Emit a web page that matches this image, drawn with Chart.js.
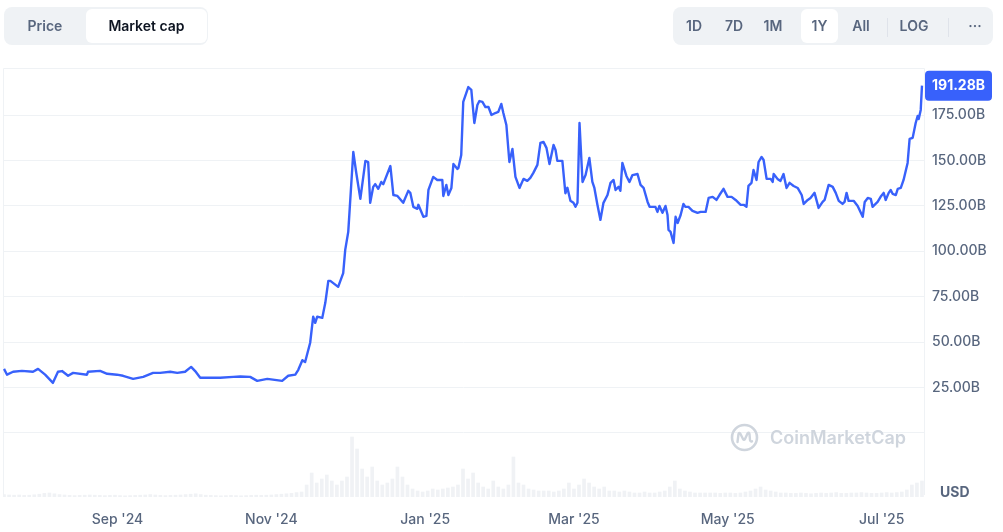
<!DOCTYPE html>
<html>
<head>
<meta charset="utf-8">
<script src="https://cdn.jsdelivr.net/npm/chart.js@4.4.1/dist/chart.umd.min.js"></script>
<style>
html,body{margin:0;padding:0;background:#fff;}
body{width:1003px;height:532px;position:relative;overflow:hidden;font-family:Inter,"Noto Sans",sans-serif;}
#wrap{position:absolute;left:0;top:0;width:1003px;height:532px;}
.seg{position:absolute;top:7px;height:38px;background:#eff2f5;border-radius:8px;}
.btn{position:absolute;top:2px;height:34px;line-height:34px;font-size:14px;font-weight:600;color:#58667e;text-align:center;white-space:nowrap;}
.btn.on{background:#fff;border-radius:6px;color:#0d1421;}
.div{position:absolute;top:11px;width:1px;height:19px;background:#dfe3ea;}
#usd{position:absolute;left:940px;top:482px;font-size:14px;font-weight:700;color:#58667e;line-height:20px;}
#wm{position:absolute;left:730px;top:422px;height:30px;display:flex;align-items:center;pointer-events:none;}
#wm span{font-size:18px;font-weight:600;color:#cfd5dd;margin-left:11px;}
</style>
</head>
<body>
<div id="wrap"><canvas id="c"></canvas></div>

<div class="seg" style="left:4px;width:204px;">
  <div class="btn" style="left:6px;width:70px;">Price</div>
  <div class="btn on" style="left:82px;width:121px;">Market cap</div>
</div>

<div class="seg" style="left:673px;width:320px;">
  <div class="btn" style="left:1px;width:40px;">1D</div>
  <div class="btn" style="left:41px;width:40px;">7D</div>
  <div class="btn" style="left:80px;width:40px;">1M</div>
  <div class="btn on" style="left:128px;width:37px;color:#58667e;">1Y</div>
  <div class="btn" style="left:168px;width:40px;">All</div>
  <div class="div" style="left:214px;"></div>
  <div class="btn" style="left:220px;width:42px;">LOG</div>
  <div class="div" style="left:275px;"></div>
  <div class="btn" style="left:282px;width:40px;">···</div>
</div>

<div id="wm">
  <svg width="29" height="29" viewBox="0 0 29 29">
    <circle cx="14.5" cy="14.5" r="12.5" fill="none" stroke="#cfd5dd" stroke-width="2.6"/>
    <path d="M7.5 19 L8.5 11 Q9 9 10.5 11 L13 16 Q14 17.5 15 16 L17.5 10.5 Q19 8.5 19.5 11 L20 17 Q20.5 19 22 18.3" fill="none" stroke="#cfd5dd" stroke-width="2.4" stroke-linecap="round" stroke-linejoin="round"/>
  </svg>
  <span>CoinMarketCap</span>
</div>

<div id="usd">USD</div>

<script>
// ---- data (days since 2024-07-18, market cap in billions USD) ----
const startDate = '2024-07-18';

const lineDays = [
  0,1.2,3.6,7.1,11.5,13.5,16.3,19.4,21.4,23.0,
  25.4,27.4,32.9,33.3,38.1,40.9,44.8,47.2,51.2,55.2,
  59.1,61.9,65.9,68.7,71.8,74.2,75.8,77.8,81.7,85.7,
  90.9,93.7,97.6,100.4,104.4,110.3,112.7,115.5,116.7,118.3,119.4,
  121.4,122.6,123.4,124.2,126.2,127.4,128.6,129.4,132.5,134.5,
  135.3,136.5,138.5,139.7,141.3,143.3,144.4,145.2,146.4,147.2,
  148.4,149.6,150.4,153.2,154.4,156.0,158.3,160.3,161.1,162.3,
  163.9,164.3,166.3,167.5,168.3,170.2,171.8,173.8,174.2,175.4,
  176.2,177.4,178.2,179.8,180.2,181.3,182.1,184.1,185.3,186.5,
  187.7,188.5,189.7,190.9,192.1,193.3,194.8,196.0,197.2,198.0,
  199.2,200.4,201.6,202.8,204.4,206.0,207.5,208.7,209.9,211.5,
  212.7,213.9,215.1,216.3,217.9,218.7,219.4,
  221.4,222.6,223.4,224.6,225.8,226.6,227.4,228.2,229.4,230.6,
  232.1,233.3,234.1,235.3,236.5,237.7,239.3,240.5,241.7,242.5,
  243.7,244.4,245.2,246.8,248.0,249.2,251.2,252.4,253.6,255.2,
  256.0,257.5,258.3,259.1,259.9,261.1,262.3,263.1,263.5,264.3,
  265.5,266.3,267.1,268.3,269.4,270.2,271.4,273.0,275.0,276.2,
  278.2,279.4,281.0,282.5,283.7,285.3,286.9,288.5,290.1,292.1,
  293.3,294.4,295.2,296.4,297.2,298.4,299.2,300.4,301.2,302.4,
  304.0,304.8,305.2,306.7,307.9,309.1,310.3,311.5,313.1,314.7,
  316.3,317.1,318.7,319.8,321.4,323.0,324.6,325.4,327.0,328.6,
  329.8,331.0,332.5,333.3,334.1,334.9,336.9,338.5,340.5,341.3,
  342.5,343.7,344.4,346.4,347.6,348.8,349.6,350.8,351.6,352.4,
  353.6,354.4,355.6,356.7,358.3,359.1,360.3,361.5,362.3,362.7,
  363.5,364
];

const marketCapB = [
  35.2,32,33.6,34.1,33.6,35.2,32,27.5,33.6,34,
  31.4,33,32,33.6,34.1,32.5,32,31.4,29.7,30.8,
  33,33,33.6,33,33.6,36.3,34,30.3,30.3,30.3,
  30.8,31,30.8,28.6,29.7,28.6,31.4,32,34.7,40,39,
  49.6,64,60.6,64,63.3,71.6,83.7,83.7,80.4,88,
  100.8,110.7,154.7,143,128.9,149.8,149.2,126.7,135.5,137,
  134.4,138.2,137,147,131,130.5,126.7,133.3,132.2,124.5,
  123.4,125.6,119,119.5,133.8,141,139.3,139.3,130.5,136.6,
  131,134.9,148.1,145.4,146,153,182.3,190.5,189,170.7,
  180.6,182.8,182.3,179.5,179.5,175.1,176.2,176.8,181.2,176.2,
  169.6,149.2,156.4,141,134.9,139.9,138.8,140.4,143.2,147.6,
  159.7,160.3,157,148.1,158.6,155.8,149.8,
  149.8,132,135,127.8,126.7,124.5,126.7,170.7,138.2,142,
  151.4,138.2,134.9,125.6,117.3,126.7,131,137.7,139.3,133.8,
  135.5,133.3,148.7,141.5,138.2,142,142.6,136.6,135,127.2,
  124.5,124.5,124.5,121.7,125,121.2,125,120,111.8,110.7,
  104.6,119,115.6,120,126.1,124.5,124.5,122.3,121.2,121.7,
  121.7,129.4,130,128.3,131,134.4,130,130,128.3,125.6,
  125.6,124.5,136,137.7,144.8,139.3,149.2,152,150.3,139.9,
  139.9,138.2,142.6,139.9,138.8,142.6,134.9,137.7,136,134.9,
  131,126.1,128.3,129.4,132.2,123.9,127.2,128.3,136.6,135.5,
  132.2,127.8,126.1,127.2,132.2,127.8,127.8,125,119,127.2,
  129.4,128.9,124.5,127.2,130,132.2,128.3,132.2,133.8,131.6,
  131,134.4,134.9,139.3,148.7,161.9,162.5,170.7,174.6,172.9,
  177.9,191.28
];

// volume (billions USD), one value every 2 days from startDate
const volumeB = [
  1.2,1.0,0.9,1.0,0.8,0.9,1.1,1.4,1.8,2.0,
  1.6,1.2,1.0,0.8,0.7,0.8,0.9,1.0,0.9,0.8,
  0.7,0.8,0.9,0.7,0.6,0.7,0.8,0.9,1.0,1.2,
  1.0,0.8,0.7,0.8,0.9,1.0,1.2,1.4,1.6,1.2,
  0.9,0.8,0.7,0.6,0.7,0.8,0.7,0.6,0.7,0.8,
  0.9,0.8,0.9,1.0,1.2,1.4,1.6,1.8,2.2,2.5,
  6,12,7,9,11,8,6,8,10,30,
  24,14,10,15,8,6,7,9,15,10,
  6,4,3,2.5,3,4,3.5,4,4.5,5,
  6,14,9,12,7,5,4,8,5,4,
  6,20,7,6,4,3.5,3,3,3,2.5,
  3,4,7,4,6,9,7,5,4,5,
  3,3,2.5,3,2.5,2,2,2.5,2,2,
  2.5,3,5,8,4,3,2.5,2,2,2,
  2,2,1.8,2,2,1.8,2,2.5,3,4,
  5,3.5,3,2.5,2,2,1.8,1.8,2,1.8,
  1.6,1.8,2,1.8,2,2.2,1.8,1.8,2,2,
  2.2,2,1.8,1.8,2,2.2,2,2.2,2.5,3.5,
  6,7,8
];
const volumeStepDays = 2;

const tickDates = ['2024-09-01','2024-11-01','2025-01-01','2025-03-01','2025-05-01','2025-07-01'];
const tickLabels = ["Sep '24","Nov '24","Jan '25","Mar '25","May '25","Jul '25"];
const yTickValues = [0,25,50,75,100,125,150,175];

// ---- build ----
const dayOf = d => (Date.parse(d + 'T00:00:00Z') - Date.parse(startDate + 'T00:00:00Z')) / 86400000;
const n = Math.min(lineDays.length, marketCapB.length);
const linePts = [];
for (let i = 0; i < n; i++) linePts.push({x: lineDays[i], y: marketCapB[i]});
const volPts = volumeB.map((v, i) => ({x: i * volumeStepDays, y: v}));
const tickDays = tickDates.map(dayOf);
const lastVal = marketCapB[n - 1];

const GRID = '#eff2f5';
const LABEL = '#58667e';
const FONT = 'Inter, "Noto Sans", sans-serif';

const framePlugin = {
  id: 'frame',
  beforeDatasetsDraw(chart) {
    const {ctx, chartArea: a} = chart;
    ctx.save();
    ctx.strokeStyle = GRID;
    ctx.lineWidth = 1;
    ctx.beginPath();
    ctx.moveTo(a.left + 0.5, a.bottom);
    ctx.lineTo(a.left + 0.5, a.top + 0.5);
    ctx.lineTo(a.right + 0.5, a.top + 0.5);
    ctx.lineTo(a.right + 0.5, a.bottom - 2);
    ctx.stroke();
    ctx.restore();
  }
};

const tagPlugin = {
  id: 'lastTag',
  afterDatasetsDraw(chart) {
    const {ctx, chartArea: a, scales} = chart;
    const y = scales.y.getPixelForValue(lastVal);
    const x = a.right + 1, w = 67, h = 30;
    ctx.save();
    ctx.fillStyle = '#3861fb';
    ctx.beginPath();
    if (ctx.roundRect) ctx.roundRect(x, y - h / 2, w, h, 4); else ctx.rect(x, y - h / 2, w, h);
    ctx.fill();
    ctx.fillStyle = '#ffffff';
    ctx.font = '700 14px ' + FONT;
    ctx.textAlign = 'left';
    ctx.textBaseline = 'middle';
    ctx.fillText(lastVal.toFixed(2) + 'B', a.right + 8, y + 0.5);
    ctx.restore();
  }
};

new Chart(document.getElementById('c'), {
  data: {
    datasets: [
      {
        type: 'line',
        data: linePts,
        borderColor: '#3861fb',
        borderWidth: 2.4,
        pointRadius: 0,
        tension: 0,
        fill: false,
        borderJoinStyle: 'round',
        yAxisID: 'y',
        order: 0
      },
      {
        type: 'bar',
        data: volPts,
        backgroundColor: '#f0f2f5',
        barThickness: 3,
        yAxisID: 'yv',
        order: 1
      }
    ]
  },
  options: {
    responsive: true,
    maintainAspectRatio: false,
    animation: false,
    events: [],
    layout: {padding: {top: 68, left: 3, right: 0, bottom: 0}},
    plugins: {legend: {display: false}, tooltip: {enabled: false}},
    scales: {
      x: {
        type: 'linear',
        offset: false,
        min: -0.4,
        max: 364.8,
        afterBuildTicks: s => { s.ticks = tickDays.map(v => ({value: v})); },
        afterFit: s => { s.height = 35; },
        grid: {display: false, offset: false},
        border: {display: false},
        ticks: {
          autoSkip: false,
          maxRotation: 0,
          padding: 6,
          color: LABEL,
          font: {family: FONT, size: 14, weight: '500'},
          callback: v => { const i = tickDays.indexOf(v); return i >= 0 ? tickLabels[i] : ''; }
        }
      },
      y: {
        position: 'right',
        min: -35.4,
        max: 201,
        afterBuildTicks: s => { s.ticks = yTickValues.map(v => ({value: v})); },
        afterFit: s => { s.width = 79; },
        grid: {color: GRID, drawTicks: false, lineWidth: 1},
        border: {display: false},
        ticks: {
          padding: 8,
          color: LABEL,
          font: {family: FONT, size: 14, weight: '500'},
          callback: v => v === 0 ? '' : v.toFixed(2) + 'B'
        }
      },
      yv: {
        position: 'left',
        display: false,
        min: 0,
        max: 214.5
      }
    }
  },
  plugins: [framePlugin, tagPlugin]
});
</script>
</body>
</html>
